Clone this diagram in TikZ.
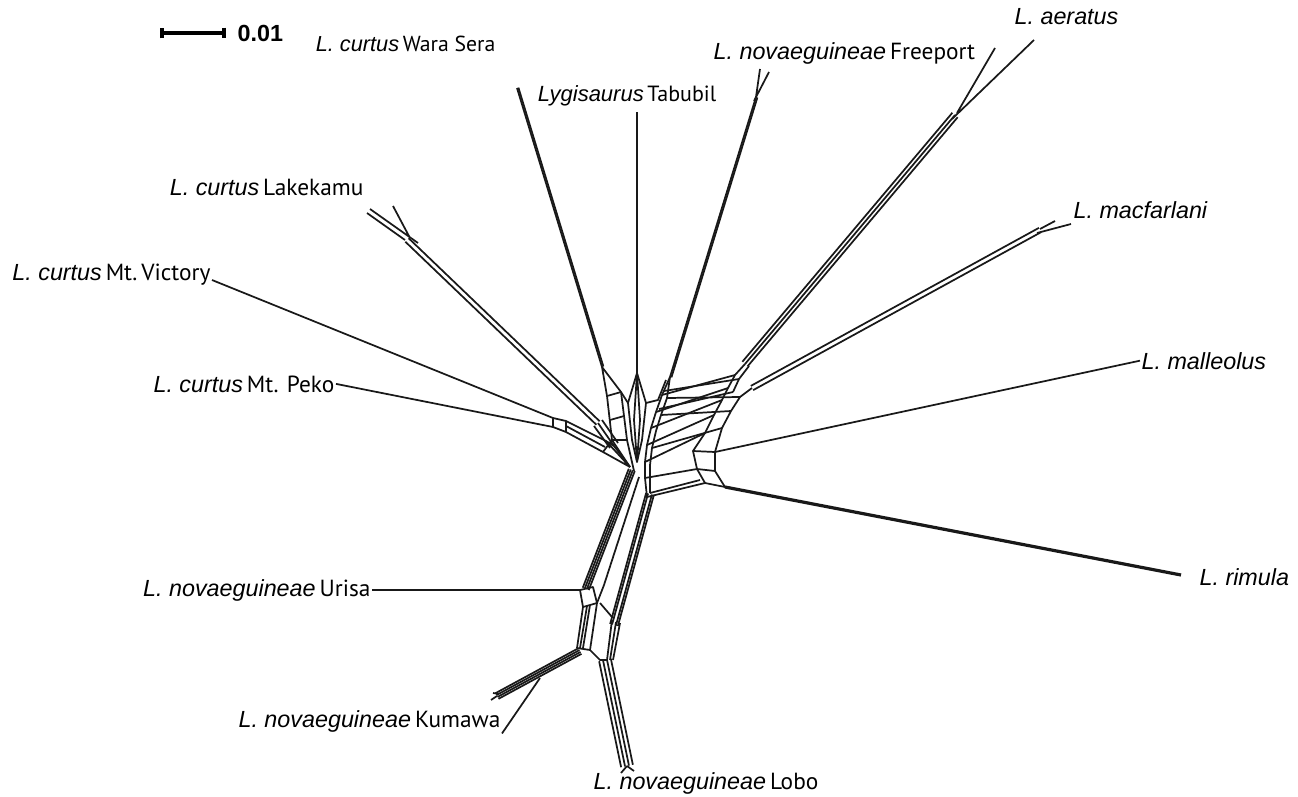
\documentclass[tikz,border=0pt]{standalone}
\usepackage{fontspec}
\setmainfont{Liberation Sans}
\newfontfamily\locfont{PT Sans}
\usetikzlibrary{calc,arrows.meta}

\newcommand{\bund}[3]{\foreach \o in {#3} \draw[edge] ($(#1)!\o pt!90:(#2)$) -- ($(#2)!\o pt!-90:(#1)$);}
\newcommand{\taxon}[2]{\textit{#1}\,{\locfont #2}}

\begin{document}
\begin{tikzpicture}[x=0.75pt,y=-0.75pt,
  edge/.style={draw=black!90, line width=1.3pt, line join=round},
  heavy/.style={edge, line width=2.4pt},
  lab/.style={font=\fontsize{17.5}{20}\selectfont, inner sep=1pt}]
\useasboundingbox (0,0) rectangle (1298,796);
\coordinate (s0) at (160,33);
\coordinate (s1) at (226,33);
\draw[line width=3pt, {Bar[width=8pt]}-{Bar[width=8pt]}] (s0) -- (s1);
\node[lab, anchor=base west] (sl) at (236,41) {\textbf{0.01}};
\node[lab, anchor=base east, font=\fontsize{16.3}{19}\selectfont] (ws) at (497,51) {\taxon{L. curtus}{Wara Sera}};
\node[lab, anchor=base, font=\fontsize{16.5}{19}\selectfont] (tb) at (627,101) {\taxon{Lygisaurus}{Tabubil}};
\node[lab, anchor=base west] (fp) at (712,59) {\taxon{L. novaeguineae}{Freeport}};
\node[lab, anchor=base west] (ae) at (1013,24) {\textit{L. aeratus}};
\node[lab, anchor=base west] (mf) at (1072,218) {\textit{L. macfarlani}};
\node[lab, anchor=base east] (lk) at (365,195) {\taxon{L. curtus}{Lakekamu}};
\node[lab, anchor=base east] (vc) at (212,280) {\taxon{L. curtus}{Mt.\,Victory}};
\node[lab, anchor=base west] (ml) at (1140,369) {\textit{L. malleolus}};
\node[lab, anchor=base east] (pk) at (336,392) {\taxon{L. curtus}{Mt. Peko}};
\node[lab, anchor=base west] (rm) at (1198,585) {\textit{L. rimula}};
\node[lab, anchor=base east] (ur) at (372,596) {\taxon{L. novaeguineae}{Urisa}};
\node[lab, anchor=base east] (ku) at (502,727) {\taxon{L. novaeguineae}{Kumawa}};
\node[lab, anchor=base west] (lo) at (592,789) {\taxon{L. novaeguineae}{Lobo}};
\coordinate (rmT) at (1181,575);
\bund{517,88}{602,367}{0,1.1}
\draw[edge] (637,112) -- (637,373);
\draw[edge] (760,69) -- (756,97) (769,72) -- (754,101);
\bund{756,97}{670,377}{0,1.1}
\draw[edge] (995,48) -- (957,113) (1034,40) -- (952,119);
\bund{955,115}{745,364}{-2.6,0,2.6}
\draw[edge] (1055,221) -- (1040,229) (1071,224) -- (1037,233);
\bund{1040,230}{752,388}{-1.8,1.8}
\draw[edge] (ml.west) -- (715,452);
\draw[heavy] (rmT) -- (725,487);
\draw[edge] (pk.east) -- (553,427);
\draw[edge] (vc.base east) -- (553,418);
\draw[edge] (367,213) -- (405,240) (370,209) -- (418,243) (393,206) -- (410,238);
\bund{407,240}{598,423}{-1.8,1.8}
\draw[edge] (ur.east) -- (580,590);
\draw[edge] (ku.south east) -- (540,678);
\bund{580,651}{497,696}{-2.4,-0.8,0.8,2.4}
\draw[edge] (497,696) -- (491,700) (499,694) -- (493,693);
\bund{605,660}{627,766}{-4.5,-1.5,1.5,4.5}
\draw[edge] (627,766) -- (621,773) (627,766) -- (634,771);
\draw[edge] (553,418) -- (566,421) -- (566,432) -- (553,427) -- cycle;
\draw[edge] (566,421) -- (606,441) -- (630,467) (566,432) -- (603,452) -- (630,467) (566,426) -- (605,447);
\draw[edge] (598,423) -- (614,446) -- (630,467) (602,420) -- (618,443) (594,426) -- (610,448);
\draw[edge] (602,367) -- (607,396) -- (612,440) -- (630,467) (602,367) -- (621,392) -- (627,440) -- (634,471);
\draw[edge] (607,396) -- (621,392) (612,440) -- (627,440) (606,441) -- (614,446) (603,452) -- (612,440) (610,420) -- (624,416);
\draw[edge] (637,373) -- (628,403) -- (632,440) -- (637,462) -- (642,440) -- (646,403) -- cycle;
\draw[edge] (637,373) -- (634,420) -- (637,462) (637,373) -- (640,420) -- (637,462) (628,403) -- (621,392);
\draw[edge] (670,377) -- (662,395) -- (656,412) -- (651,428) -- (647,445) -- (645,462) -- (645,478) -- (647,497);
\draw[edge] (670,377) -- (667,398) -- (661,415) -- (656,431) -- (652,448) -- (650,465) -- (650,493);
\draw[edge] (666,380) -- (658,400) -- (646,403);
\draw[edge] (745,364) -- (735,375) -- (728,388) -- (722,400) -- (714,415) -- (705,433) -- (693,451);
\draw[edge] (752,388) -- (740,397) -- (731,411) -- (722,428) -- (715,452);
\draw[edge] (749,366) -- (739,379) -- (733,392);
\draw[edge] (662,395) -- (735,375) (656,412) -- (728,388) (651,428) -- (722,400) (647,445) -- (714,415) (645,462) -- (705,433);
\draw[edge] (667,398) -- (740,397) (661,415) -- (731,411) (652,448) -- (722,428) (664,391) -- (739,379) (659,409) -- (733,392);
\draw[edge] (693,451) -- (715,452) -- (715,471) -- (697,469) -- cycle;
\draw[edge] (645,478) -- (697,469) (715,471) -- (725,487) (697,469) -- (705,483);
\draw[edge] (647,497) -- (705,483) -- (725,487) (650,493) -- (700,480);
\bund{632,470}{586,589}{-2.6,-1,0.6,2.2}
\draw[edge] (639,477) -- (604,585) -- (597,603);
\bund{650,494}{614,625}{-3,-1.5,1.5,3}
\draw[edge] (612,620) -- (607,660) (616,622) -- (610,660) (620,623) -- (613,660);
\draw[edge] (580,590) -- (593,587) -- (597,603) -- (583,607) -- cycle;
\draw[edge] (600,603) -- (612,617) (583,607) -- (577,648) (587,606) -- (580,648) (590,605) -- (583,648) (597,603) -- (590,650);
\draw[edge] (577,648) -- (590,650) -- (600,660) -- (607,660);
\end{tikzpicture}
\end{document}
